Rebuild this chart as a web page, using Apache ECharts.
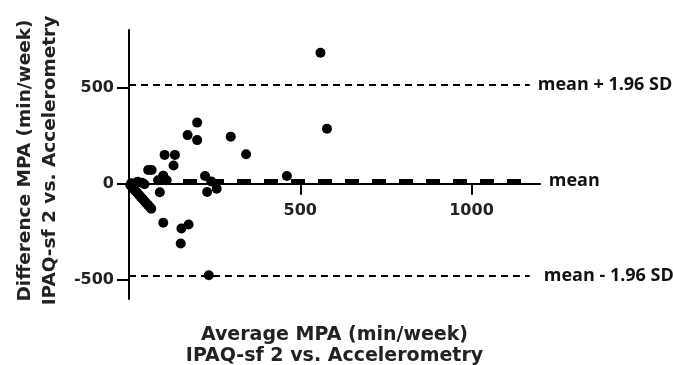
<!DOCTYPE html>
<html>
<head>
<meta charset="utf-8">
<script src="https://cdn.jsdelivr.net/npm/echarts@6/dist/echarts.min.js"></script>
<style>
  html, body { margin: 0; padding: 0; background: #fff; }
  #chart { width: 673px; height: 365px; }
</style>
</head>
<body>
<div id="chart"></div>
<script>
// average MPA (x) vs difference MPA (y), min/week
const avgMPA = [559, 578, 199, 171, 199, 297, 342, 104, 134, 130, 56, 66, 100, 222, 461,
  85, 110, 90, 228, 256, 100, 153, 174, 151, 233,
  4, 8, 12, 16, 20, 25, 30, 35, 40, 45, 50, 55, 60, 65,
  6, 14, 25, 38, 45, 240]
const diffMPA = [682, 286, 318, 253, 227, 245, 153, 150, 150, 95, 71, 71, 42, 40, 40,
  18, 18, -44, -43, -26, -203, -233, -212, -311, -476,
  -8, -16, -24, -32, -40, -50, -60, -70, -80, -90, -100, -110, -120, -130,
  2, 0, 10, 5, -3, 12]

const meanDiff = 16
const upperLoA = 513
const lowerLoA = -481
const lineEndX = 1170

const yMin = -600, yMax = 800
const yTicks = [-500, 0, 500]
const xTicks = [500, 1000]

const points = avgMPA.map((x, i) => [x, diffMPA[i]])

const gridH = 269
// x axis sits on y = 0: shift it up from the bottom of the grid
const xOffset = -gridH * (0 - yMin) / (yMax - yMin)

const chart = echarts.init(document.getElementById('chart'))

const tickFont = {
  fontFamily: 'DejaVu Sans, sans-serif',
  fontWeight: 'bold',
  fontSize: 16,
  color: '#222'
}
const titleFont = {
  fontFamily: 'DejaVu Sans, sans-serif',
  fontWeight: 'bold',
  color: '#222'
}

chart.setOption({
  animation: false,
  backgroundColor: '#fff',
  grid: { left: 129, top: 30, width: 411, height: gridH, containLabel: false, outerBoundsMode: 'none' },
  xAxis: {
    type: 'value',
    min: 0,
    max: 1200,
    position: 'bottom',
    offset: xOffset,
    name: 'Average MPA (min/week)\nIPAQ-sf 2 vs. Accelerometry',
    nameLocation: 'middle',
    nameGap: 141,
    nameTextStyle: Object.assign({}, titleFont, { fontSize: 19, lineHeight: 21 }),
    axisLine: { onZero: false, lineStyle: { color: '#000', width: 2 } },
    axisTick: { show: true, inside: false, customValues: xTicks, length: 11, lineStyle: { color: '#000', width: 2 } },
    axisLabel: Object.assign({ customValues: xTicks, margin: 19, formatter: v => String(v) }, tickFont),
    splitLine: { show: false }
  },
  yAxis: {
    type: 'value',
    min: yMin,
    max: yMax,
    name: 'Difference MPA (min/week)\nIPAQ-sf 2 vs. Accelerometry',
    nameLocation: 'middle',
    nameRotate: 90,
    nameGap: 63,
    nameTextStyle: Object.assign({}, titleFont, { fontSize: 18.5, lineHeight: 25, padding: [0, 0, 0, 8] }),
    axisLine: { onZero: false, lineStyle: { color: '#000', width: 2 } },
    axisTick: { show: true, customValues: yTicks, length: 12, lineStyle: { color: '#000', width: 2 } },
    axisLabel: Object.assign({ customValues: yTicks, margin: 15, formatter: v => String(v) }, tickFont),
    splitLine: { show: false }
  },
  series: [
    {
      type: 'scatter',
      data: points,
      symbolSize: 10,
      itemStyle: { color: '#000', opacity: 1 },
      markLine: {
        silent: true,
        symbol: 'none',
        label: {
          show: true,
          position: 'end',
          distance: 8,
          fontFamily: 'Open Sans, sans-serif',
          fontWeight: 'bold',
          fontSize: 18,
          color: '#111'
        },
        data: [
          [
            { coord: [0, upperLoA], lineStyle: { type: [7, 5], width: 2, color: '#000' },
              label: { formatter: 'mean + 1.96 SD' } },
            { coord: [lineEndX, upperLoA] }
          ],
          [
            { coord: [0, meanDiff], lineStyle: { type: [14, 13], width: 4, color: '#000' },
              label: { formatter: 'mean', distance: 19 } },
            { coord: [lineEndX, meanDiff] }
          ],
          [
            { coord: [0, lowerLoA], lineStyle: { type: [7, 5], width: 2, color: '#000' },
              label: { formatter: 'mean - 1.96 SD', distance: 14 } },
            { coord: [lineEndX, lowerLoA] }
          ]
        ]
      }
    }
  ]
})
</script>
</body>
</html>
